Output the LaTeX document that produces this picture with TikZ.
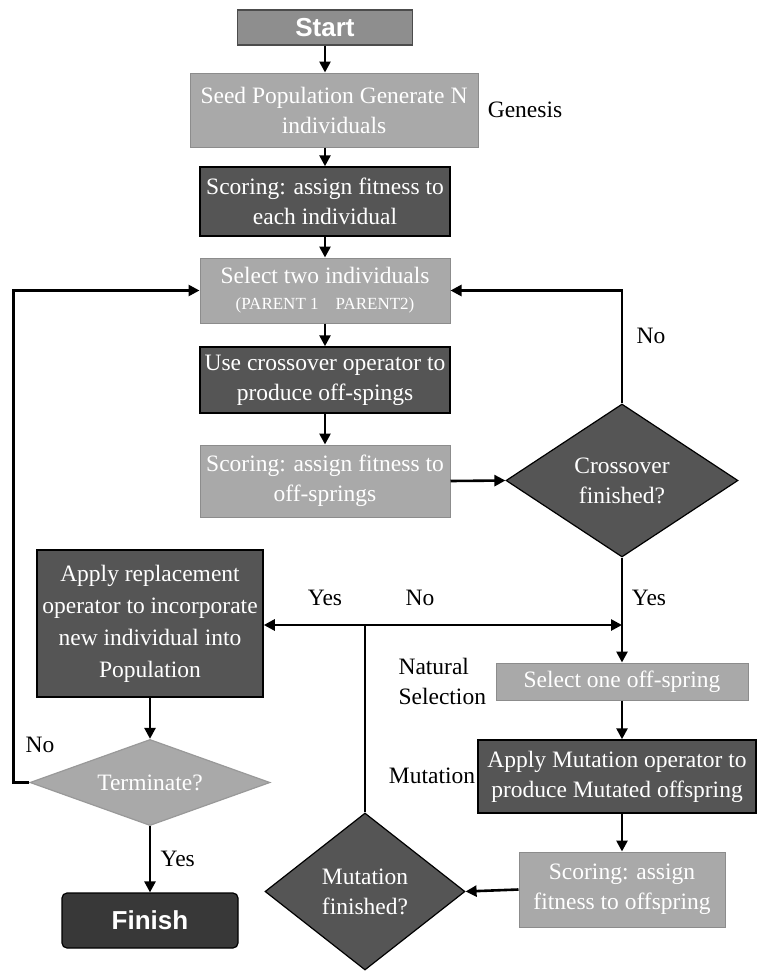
\documentclass[tikz,border=0pt]{standalone}
\usepackage{fontspec}
\usepackage{xcolor}
\setmainfont{Liberation Serif}
\newfontfamily\headfont{Liberation Sans}
\usetikzlibrary{shapes.geometric,arrows.meta}

\definecolor{boxdark}{HTML}{555555}
\definecolor{boxlight}{HTML}{A9A9A9}
\definecolor{boxstart}{HTML}{8E8E8E}
\definecolor{boxend}{HTML}{383838}

\begin{document}
\begin{tikzpicture}[x=1pt, y=-1pt,
  >={Triangle[length=11pt,width=11pt]},
  box/.style={inner sep=0pt, align=center, text=white,
    font=\fontsize{23.5}{30}\selectfont},
  darkbox/.style={box, fill=boxdark, draw=black, line width=1.5pt},
  lightbox/.style={box, fill=boxlight, draw=black!45, line width=1pt},
  termbox/.style={box, draw=black!70, line width=1.2pt,
    font=\headfont\bfseries\fontsize{26}{30}\selectfont},
  decision/.style={diamond, inner sep=0pt, aspect=1.5, align=center,
    text=white, line width=1.2pt, font=\fontsize{23.5}{30}\selectfont},
  flow/.style={->, line width=2.6pt},
  note/.style={align=left, font=\fontsize{23.5}{30}\selectfont}
  ]
  \useasboundingbox (0,0) rectangle (757,972);

  % main column
  \node (start) [termbox, fill=boxstart, minimum width=175pt, minimum height=35pt]
    at (325,27.5) {Start};
  \node (seed) [lightbox, minimum width=288pt, minimum height=74pt]
    at (334,110) {Seed Population Generate N\\individuals};
  \node (genesis) [note] at (525,110) {Genesis};
  \node (score1) [darkbox, minimum width=250pt, minimum height=69pt]
    at (325,201.5) {Scoring: assign fitness to\\each individual};
  \node (select) [lightbox, minimum width=250pt, minimum height=65pt]
    at (325,290.5) {Select two individuals\\[-4pt]{\fontsize{17}{20}\selectfont (PARENT 1\quad PARENT2)}};
  \node (cross) [darkbox, minimum width=250pt, minimum height=66pt]
    at (325,380) {Use crossover operator to\\produce off-spings};
  \node (score2) [lightbox, minimum width=250pt, minimum height=72pt]
    at (325,481) {Scoring: assign fitness to\\off-springs};
  \node (xdec) [decision, fill=boxdark, draw=black,
    minimum width=232pt, minimum height=153pt]
    at (622,480.5) {Crossover\\finished?};

  % mutation branch
  \node (selone) [lightbox, minimum width=252pt, minimum height=37pt]
    at (622,681.5) {Select one off-spring};
  \node (natsel) [note, anchor=west] at (395,681) {Natural\\Selection};
  \node (mutate) [darkbox, minimum width=278pt, minimum height=73pt]
    at (617,776.5) {Apply Mutation operator to\\produce Mutated offspring};
  \node (mutlabel) [note] at (432,776) {Mutation};
  \node (score3) [lightbox, minimum width=206pt, minimum height=75pt]
    at (622,889.5) {Scoring: assign\\fitness to offspring};
  \node (mdec) [decision, fill=boxdark, draw=black,
    minimum width=200pt, minimum height=157pt]
    at (365,891.5) {Mutation\\finished?};
  \coordinate (junc) at (365,625);

  % replacement and end
  \node (replace) [darkbox, minimum width=226pt, minimum height=147pt,
    font=\fontsize{23.5}{32}\selectfont]
    at (150,623.5) {Apply replacement\\operator to incorporate\\new individual into\\Population};
  \node (term) [decision, fill=boxlight, draw=black!40,
    minimum width=240pt, minimum height=85pt]
    at (150,782.5) {Terminate?};
  \node (finish) [termbox, fill=boxend, draw=black, rounded corners=5pt,
    minimum width=176pt, minimum height=55pt]
    at (150,920.5) {Finish};

  % connectors
  \draw[flow] (start.south) -- (start.south |- seed.north);
  \draw[flow] (score1.north |- seed.south) -- (score1.north);
  \draw[flow] (score1) -- (select);
  \draw[flow] (select) -- (cross);
  \draw[flow] (cross) -- (score2);
  \draw[flow] (score2.east) -- (xdec.west);
  \draw[flow] (xdec.north) |- (select.east)
    node [note, pos=0.3, right=10pt] (xno) {No};
  \draw[flow] (xdec.south) -- (selone.north);
  \node (xyes) [note] at (649,598) {Yes};
  \draw[flow] (selone.south) -- (selone.south |- mutate.north);
  \draw[flow] (score3.north |- mutate.south) -- (score3.north);
  \draw[flow] (score3.west) -- (mdec.east);
  \draw[line width=2.6pt] (mdec.north) -- (junc);
  \draw[flow] (junc) -- (replace.east |- junc);
  \draw[flow] (junc) -- (junc -| xdec.south);
  \node (myes) [note] at (325,598) {Yes};
  \node (mno) [note] at (420,598) {No};
  \draw[flow] (replace) -- (term);
  \draw[flow] (term.west) -- ++(-16,0) |- (select.west);
  \node (tno) [note] at (40,745) {No};
  \draw[flow] (term.south) -- (finish.north)
    node [note, midway, right=6pt] (tyes) {Yes};
\end{tikzpicture}
\end{document}
